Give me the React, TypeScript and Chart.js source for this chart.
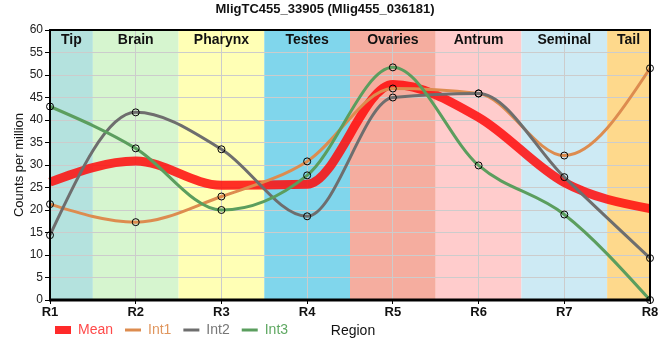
import React, { useEffect, useRef } from 'react';
import { Chart, registerables } from 'chart.js';

Chart.register(...registerables);

const chartTitle = 'MligTC455_33905 (Mlig455_036181)';
const regions = ['R1', 'R2', 'R3', 'R4', 'R5', 'R6', 'R7', 'R8'];
const tissues = ['Tip', 'Brain', 'Pharynx', 'Testes', 'Ovaries', 'Antrum', 'Seminal', 'Tail'];
const tissueColors = ['#b4e2de', '#d6f5cf', '#ffffb5', '#80d6ec', '#f5ad9f', '#ffcccc', '#cdeaf4', '#fed98c'];

const meanValues = [26.2, 30.9, 25.5, 25.7, 47.9, 40.6, 26.1, 20.3];
const int1Values = [21.3, 17.3, 23.0, 30.8, 47.0, 45.9, 32.1, 51.5];
const int2Values = [14.4, 41.7, 33.5, 18.6, 45.0, 45.9, 27.3, 9.3];
const int3Values = [43.0, 33.7, 20.0, 27.7, 51.7, 29.9, 19.0, 0];

const seriesNames = ['Mean', 'Int1', 'Int2', 'Int3'];
const seriesColors = ['rgba(255,10,10,0.85)', '#dd8c4f', '#6e6e6e', '#5b9e5e'];
const legendTextColors = ['#ff4a4a', '#e0965e', '#777777', '#5fa862'];

const FONT = '"Liberation Sans", Arial, sans-serif';

// d3-style monotoneX (Steffen) control points, computed from the scale pixels
const monotonePlugin = {
  id: 'monotoneX',
  beforeDatasetDraw(chart: any, args: any) {
    const meta = args.meta;
    const pts = meta.data;
    const n = pts.length;
    if (n < 3) return;
    const xs = pts.map((p: any) => p.x);
    const ys = pts.map((p: any) => p.y);
    const sign = (v: number) => (v < 0 ? -1 : 1);
    const t: number[] = new Array(n).fill(0);
    for (let i = 1; i < n - 1; i++) {
      const h0 = xs[i] - xs[i - 1];
      const h1 = xs[i + 1] - xs[i];
      const s0 = (ys[i] - ys[i - 1]) / h0;
      const s1 = (ys[i + 1] - ys[i]) / h1;
      const p = (s0 * h1 + s1 * h0) / (h0 + h1);
      t[i] = (sign(s0) + sign(s1)) * Math.min(Math.abs(s0), Math.abs(s1), 0.5 * Math.abs(p)) || 0;
    }
    t[0] = (3 * (ys[1] - ys[0]) / (xs[1] - xs[0]) - t[1]) / 2;
    t[n - 1] = (3 * (ys[n - 1] - ys[n - 2]) / (xs[n - 1] - xs[n - 2]) - t[n - 2]) / 2;
    for (let i = 0; i < n; i++) {
      const pt = pts[i];
      if (i > 0) {
        const d = (xs[i] - xs[i - 1]) / 3;
        pt.cp1x = xs[i] - d;
        pt.cp1y = ys[i] - d * t[i];
      } else {
        pt.cp1x = xs[i];
        pt.cp1y = ys[i];
      }
      if (i < n - 1) {
        const d = (xs[i + 1] - xs[i]) / 3;
        pt.cp2x = xs[i] + d;
        pt.cp2y = ys[i] + d * t[i];
      } else {
        pt.cp2x = xs[i];
        pt.cp2y = ys[i];
      }
    }
    if (meta.dataset) meta.dataset._pointsUpdated = true;
  },
};

const bandsPlugin = {
  id: 'bands',
  beforeDraw(chart: any) {
    const { ctx, chartArea, scales } = chart;
    const xs = scales.x;
    ctx.save();
    for (let i = 0; i < tissues.length; i++) {
      const c = xs.getPixelForValue(i);
      const l = i === 0 ? chartArea.left : (xs.getPixelForValue(i - 1) + c) / 2;
      const r = i === tissues.length - 1 ? chartArea.right : (xs.getPixelForValue(i + 1) + c) / 2;
      ctx.fillStyle = tissueColors[i];
      ctx.fillRect(l, chartArea.top, r - l, chartArea.bottom - chartArea.top);
    }
    ctx.restore();
  },
  beforeDatasetsDraw(chart: any) {
    const { ctx, chartArea, scales } = chart;
    const xs = scales.x;
    ctx.save();
    ctx.font = `bold 14px ${FONT}`;
    ctx.fillStyle = '#111';
    ctx.textAlign = 'center';
    ctx.textBaseline = 'middle';
    for (let i = 0; i < tissues.length; i++) {
      const c = xs.getPixelForValue(i);
      const l = i === 0 ? chartArea.left : (xs.getPixelForValue(i - 1) + c) / 2;
      const r = i === tissues.length - 1 ? chartArea.right : (xs.getPixelForValue(i + 1) + c) / 2;
      ctx.fillText(tissues[i], (l + r) / 2, chartArea.top + 10);
    }
    ctx.restore();
  },
  afterDraw(chart: any) {
    const { ctx, chartArea } = chart;
    ctx.save();
    ctx.strokeStyle = '#000';
    ctx.lineWidth = 2;
    ctx.strokeRect(chartArea.left, chartArea.top, chartArea.right - chartArea.left, chartArea.bottom - chartArea.top);
    ctx.lineWidth = 3;
    ctx.beginPath();
    ctx.moveTo(chartArea.left - 1, chartArea.bottom);
    ctx.lineTo(chartArea.right + 1, chartArea.bottom);
    ctx.stroke();
    ctx.font = `14px ${FONT}`;
    ctx.fillStyle = '#111';
    ctx.textAlign = 'center';
    ctx.textBaseline = 'middle';
    ctx.fillText('Region', 353, 331);
    ctx.restore();
  },
  afterLayout(chart: any) {
    const lg = chart.legend;
    if (lg) {
      const h = lg.bottom - lg.top;
      lg.left = 43;
      lg.top = 311;
      lg.bottom = 311 + h;
    }
  },
};

export default function App() {
  const ref = useRef<HTMLCanvasElement>(null);
  useEffect(() => {
    document.body.style.margin = '0';
    const allValues = [meanValues, int1Values, int2Values, int3Values];
    const chart = new Chart(ref.current as HTMLCanvasElement, {
      type: 'line',
      data: {
        labels: regions,
        datasets: seriesNames.map((name, i) => ({
          label: name,
          data: allValues[i],
          borderColor: seriesColors[i],
          backgroundColor: seriesColors[i],
          borderWidth: i === 0 ? 9 : 3,
          cubicInterpolationMode: 'monotone' as const,
          pointRadius: i === 0 ? 0 : 3.5,
          pointBorderWidth: 1,
          pointBorderColor: '#000',
          pointBackgroundColor: 'rgba(0,0,0,0)',
          fill: false,
          order: 4 - i,
          clip: 8,
        })),
      },
      options: {
        animation: false,
        responsive: false,
        maintainAspectRatio: false,
        layout: { padding: { left: 0, right: 10, top: 0, bottom: 1 } },
        plugins: {
          title: {
            display: true,
            text: chartTitle,
            color: '#111',
            font: { family: FONT, size: 13, weight: 'bold' },
            padding: { top: 1.5, bottom: 12.9 },
          },
          legend: {
            position: 'bottom',
            align: 'start',
            labels: {
              usePointStyle: true,
              pointStyle: 'line',
              pointStyleWidth: 16,
              boxHeight: 8,
              padding: 12,
              font: { family: FONT, size: 14 },
              generateLabels: () =>
                seriesNames.map((name, i) => ({
                  text: name,
                  fillStyle: seriesColors[i],
                  strokeStyle: i === 0 ? '#ff2a2a' : seriesColors[i],
                  lineWidth: i === 0 ? 8 : 3,
                  pointStyle: 'line',
                  fontColor: legendTextColors[i],
                  hidden: false,
                  datasetIndex: i,
                })),
            },
          },
          tooltip: { enabled: false },
        },
        scales: {
          x: {
            type: 'category',
            offset: false,
            grid: { color: '#cccccc', tickColor: '#000', tickLength: 4, drawTicks: true },
            border: { display: false },
            ticks: { color: '#111', font: { family: FONT, size: 13, weight: 'bold' }, padding: 1, maxRotation: 0 },
            afterFit: (s: any) => { s.height = 23; },
          },
          y: {
            min: 0,
            max: 60,
            ticks: { stepSize: 5, color: '#222', font: { family: FONT, size: 12 }, padding: 2 },
            grid: { color: '#cccccc', tickColor: '#000', tickLength: 5 },
            border: { display: false },
            title: {
              display: true,
              text: 'Counts per million',
              color: '#111',
              font: { family: FONT, size: 13 },
              padding: { top: 12, bottom: 0 },
            },
            afterFit: (s: any) => { s.width = 50; },
          },
        },
      },
      plugins: [bandsPlugin, monotonePlugin],
    });
    return () => chart.destroy();
  }, []);
  return (
    <div style={{ width: 660, height: 360 }}>
      <canvas ref={ref} width={660} height={360} style={{ display: 'block' }} />
    </div>
  );
}
